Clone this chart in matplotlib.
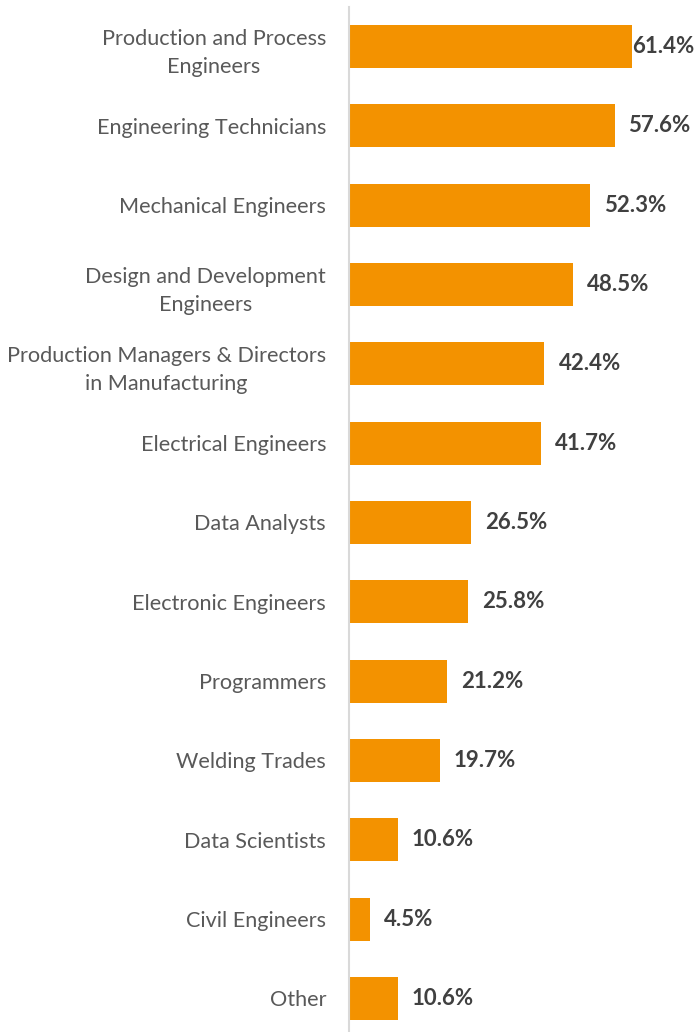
import matplotlib.pyplot as plt

plt.rcParams['font.family'] = ['Lato', 'DejaVu Sans']

# occupations, top to bottom
categories = [
    'Production and Process\nEngineers',
    'Engineering Technicians',
    'Mechanical Engineers',
    'Design and Development\nEngineers',
    'Production Managers & Directors\nin Manufacturing',
    'Electrical Engineers',
    'Data Analysts',
    'Electronic Engineers',
    'Programmers',
    'Welding Trades',
    'Data Scientists',
    'Civil Engineers',
    'Other',
]
values = [61.4, 57.6, 52.3, 48.5, 42.4, 41.7, 26.5, 25.8, 21.2, 19.7, 10.6, 4.5, 10.6]

W, H = 694, 1032
fig = plt.figure(figsize=(W / 100, H / 100), dpi=100)

step = 79.33
top = 46.5 - step / 2
bottom = 998.5 + step / 2
ax = fig.add_axes([349 / W, 1 - bottom / H, 1 - 349 / W, (bottom - top) / H])

xmax = (W - 349) / 4.61
pos = list(range(len(values)))
ax.barh(pos, values, height=0.542, color='#F39200')
ax.set_xlim(0, xmax)
ax.set_ylim(len(values) - 0.5, -0.5)

# value labels, kept inside the figure for the longest bar
label_w = 13.4
for y, v in zip(pos, values):
    x = min(v + 14 / 4.61, xmax - label_w)
    ax.text(x, y, f'{v:.1f}%', va='center', ha='left', fontsize=16,
            fontweight='bold', color='#404040')

ax.set_yticks(pos)
ax.set_yticklabels(categories, fontsize=15.6, color='#595959', linespacing=1.5)
ax.tick_params(axis='y', length=0, pad=16.5)
for lab in ax.get_yticklabels():
    lab.set_multialignment('center')
ax.set_xticks([])
for s in ['top', 'right', 'bottom']:
    ax.spines[s].set_visible(False)
ax.spines['left'].set_color('#D9D9D9')
ax.spines['left'].set_linewidth(1.5)

fig.savefig('out.png', dpi=100)
